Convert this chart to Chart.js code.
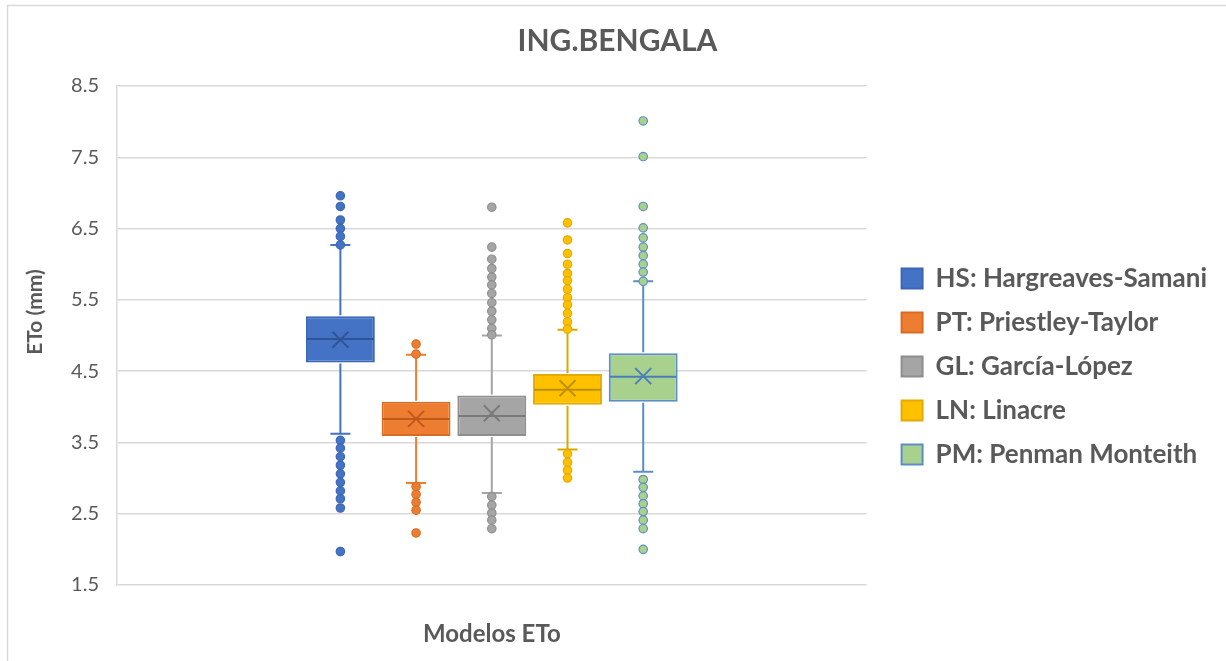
<!DOCTYPE html>
<html><head><meta charset="utf-8">
<script src="https://cdn.jsdelivr.net/npm/chart.js@4/dist/chart.umd.min.js"></script>
<style>html,body{margin:0;padding:0;background:#fff;}#wrap{width:1226px;height:661px;}</style>
</head><body><div id="wrap"><canvas id="c" width="1226" height="661"></canvas></div>
<script>
const categories = ['Modelos ETo'];
const seriesNames = ['HS: Hargreaves-Samani', 'PT: Priestley-Taylor', 'GL: García-López', 'LN: Linacre', 'PM: Penman Monteith'];
const q1 = [4.62, 3.59, 3.59, 4.03, 4.07];
const q3 = [5.27, 4.07, 4.16, 4.46, 4.75];
const medians = [4.95, 3.83, 3.87, 4.24, 4.42];
const means = [4.94, 3.83, 3.91, 4.26, 4.43];
const whiskerLow = [3.62, 2.93, 2.79, 3.40, 3.09];
const whiskerHigh = [6.27, 4.73, 5.00, 5.08, 5.76];
const outliersHS = [6.96, 6.81, 6.62, 6.50, 6.39, 6.27, 3.53, 3.42, 3.30, 3.18, 3.06, 2.94, 2.82, 2.71, 2.58, 1.97];
const outliersPT = [4.88, 4.74, 2.88, 2.77, 2.66, 2.55, 2.23];
const outliersGL = [6.80, 6.24, 6.07, 5.94, 5.82, 5.71, 5.59, 5.46, 5.34, 5.22, 5.10, 5.01, 2.74, 2.62, 2.51, 2.41, 2.29];
const outliersLN = [6.58, 6.34, 6.15, 6.00, 5.87, 5.77, 5.65, 5.53, 5.43, 5.31, 5.19, 5.09, 3.34, 3.22, 3.11, 3.00];
const outliersPM = [8.01, 7.51, 6.81, 6.51, 6.37, 6.24, 6.12, 6.00, 5.89, 5.76, 2.98, 2.87, 2.75, 2.64, 2.53, 2.41, 2.29, 2.00];
const yTickValues = [1.5, 2.5, 3.5, 4.5, 5.5, 6.5, 7.5, 8.5];

const outliers = [outliersHS, outliersPT, outliersGL, outliersLN, outliersPM];

// styles
const fillColors = ['#4472C4', '#ED7D31', '#A5A5A5', '#FFC000', '#A9D18E'];
const borderColors = ['#3B66B6', '#D96C22', '#8E8E8E', '#E3AA00', '#5B8EC7'];
const lineColors = ['#2F5597', '#C0581A', '#7A7A7A', '#BF9000', '#4A7EBB'];
const whiskerColors = ['#4472C4', '#ED7D31', '#A5A5A5', '#DDA700', '#5B8EC7'];
const TXT = '#595959';
const FONT = 'Lato, "Open Sans", sans-serif';

const datasets = seriesNames.map((name, i) => ({
  label: name,
  data: [[q1[i], q3[i]]],
  backgroundColor: fillColors[i],
  borderColor: borderColors[i],
  borderWidth: 2,
  borderSkipped: false,
  categoryPercentage: 0.505,
  barPercentage: 0.91
}));

const boxPlugin = {
  id: 'boxExtras',
  beforeLayout(chart) {
    const lg = chart.legend;
    if (lg && !lg._wideFit) {
      const orig = lg.fit;
      lg.fit = function () {
        const mw = this.maxWidth;
        this.maxWidth = 2000;
        orig.call(this);
        this.maxWidth = mw;
      };
      lg._wideFit = true;
    }
  },
  beforeDraw(chart) {
    const ctx = chart.ctx;
    ctx.save();
    ctx.fillStyle = '#fff';
    ctx.fillRect(0, 0, chart.width, chart.height);
    ctx.strokeStyle = '#d9d9d9';
    ctx.lineWidth = 1.5;
    ctx.strokeRect(7.5, 5.5, chart.width + 20, chart.height + 20);
    ctx.restore();
  },
  afterDatasetsDraw(chart) {
    const ctx = chart.ctx;
    const ys = chart.scales.y;
    ctx.save();
    chart.data.datasets.forEach((ds, i) => {
      const bar = chart.getDatasetMeta(i).data[0];
      if (!bar) return;
      const cx = bar.x;
      const half = bar.width / 2;
      const yQ1 = ys.getPixelForValue(q1[i]);
      const yQ3 = ys.getPixelForValue(q3[i]);
      const yLo = ys.getPixelForValue(whiskerLow[i]);
      const yHi = ys.getPixelForValue(whiskerHigh[i]);
      ctx.strokeStyle = whiskerColors[i];
      ctx.lineWidth = 2;
      ctx.beginPath();
      ctx.moveTo(cx, yQ3 - 1); ctx.lineTo(cx, yHi);
      ctx.moveTo(cx - 10, yHi); ctx.lineTo(cx + 10, yHi);
      ctx.moveTo(cx, yQ1 + 1); ctx.lineTo(cx, yLo);
      ctx.moveTo(cx - 10, yLo); ctx.lineTo(cx + 10, yLo);
      ctx.stroke();
      const yMed = ys.getPixelForValue(medians[i]);
      ctx.strokeStyle = lineColors[i];
      ctx.lineWidth = 2;
      ctx.beginPath();
      ctx.moveTo(cx - half + 1, yMed); ctx.lineTo(cx + half - 1, yMed);
      ctx.stroke();
      const yMean = ys.getPixelForValue(means[i]);
      ctx.beginPath();
      ctx.moveTo(cx - 8, yMean - 8); ctx.lineTo(cx + 8, yMean + 8);
      ctx.moveTo(cx - 8, yMean + 8); ctx.lineTo(cx + 8, yMean - 8);
      ctx.stroke();
      ctx.fillStyle = fillColors[i];
      ctx.strokeStyle = borderColors[i];
      ctx.lineWidth = 1.2;
      outliers[i].forEach(v => {
        const py = ys.getPixelForValue(v);
        ctx.beginPath();
        ctx.arc(cx, py, 4.2, 0, Math.PI * 2);
        ctx.fill();
        ctx.stroke();
      });
    });
    ctx.restore();
  },
  afterDraw(chart) {
    const ctx = chart.ctx;
    ctx.save();
    ctx.translate(35, 312);
    ctx.rotate(-Math.PI / 2);
    ctx.font = 'bold 21px ' + FONT;
    ctx.fillStyle = TXT;
    ctx.textAlign = 'center';
    ctx.textBaseline = 'middle';
    ctx.fillText('ETo (mm)', 0, 0);
    ctx.restore();
  }
};

new Chart(document.getElementById('c'), {
  type: 'bar',
  data: { labels: categories, datasets },
  plugins: [boxPlugin],
  options: {
    responsive: false,
    animation: false,
    devicePixelRatio: 1,
    layout: { padding: { top: 18, left: 18, right: 9, bottom: 0 } },
    plugins: {
      tooltip: { enabled: false },
      title: {
        display: true, text: 'ING.BENGALA', color: TXT,
        font: { family: FONT, size: 30, weight: 'bold' },
        padding: { top: 5, bottom: 27 }
      },
      legend: {
        position: 'right', align: 'center',
        title: { display: true, text: ' ', font: { size: 12 }, padding: { top: 0, bottom: 39.6 } },
        labels: {
          color: TXT, boxWidth: 21, boxHeight: 20, padding: 18,
          font: { family: FONT, size: 26, weight: 'bold' }
        }
      }
    },
    scales: {
      x: {
        grid: { display: false, drawTicks: false },
        border: { display: false },
        ticks: { display: false },
        title: {
          display: true, text: 'Modelos ETo', color: TXT,
          font: { family: FONT, size: 24, weight: 'bold' },
          padding: { top: 35, bottom: 12 }
        },
        afterFit(s) { s.height = 76; }
      },
      y: {
        min: 1.5, max: 8.5,
        afterBuildTicks(s) { s.ticks = yTickValues.map(v => ({ value: v })); },
        grid: { color: '#d9d9d9', lineWidth: 1.5, drawTicks: false },
        border: { display: true, color: '#d9d9d9', width: 1.5 },
        ticks: {
          color: TXT, padding: 18,
          font: { family: FONT, size: 20 },
          callback: v => Number(v).toFixed(1)
        },
        afterFit(s) { s.width = 99; }
      },
      yR: {
        type: 'linear', position: 'right', display: true,
        grid: { display: false, drawTicks: false },
        border: { display: false },
        ticks: { display: false },
        afterFit(s) { s.width = 17; }
      }
    }
  }
});
</script></body></html>
